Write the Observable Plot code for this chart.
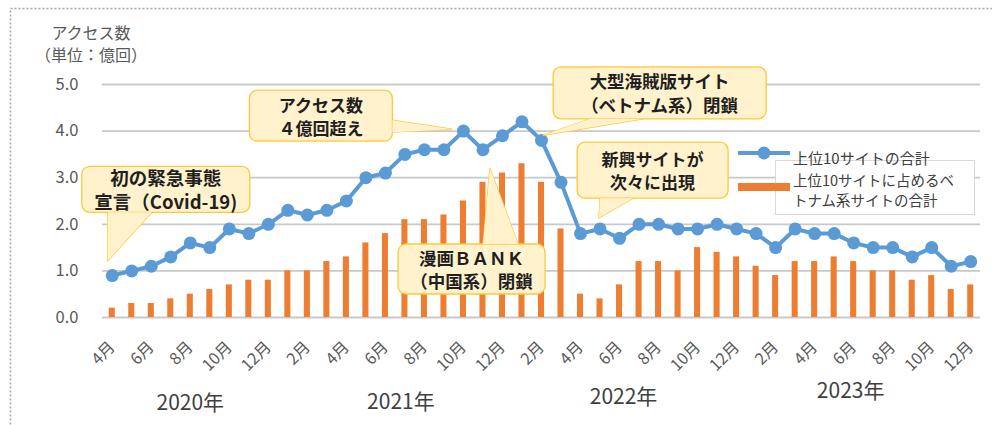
<!DOCTYPE html>
<html>
<head>
<meta charset="utf-8">
<script src="https://cdn.jsdelivr.net/npm/d3@7"></script>
<script src="https://cdn.jsdelivr.net/npm/@observablehq/plot@0.6"></script>
<style>
  html, body { margin: 0; padding: 0; background: #fff; overflow: hidden; }
  #chart svg { display: block; }
</style>
</head>
<body>
<div id="chart"></div>
<script>
// ---- data ----
const periods = [
  "2020-04","2020-05","2020-06","2020-07","2020-08","2020-09","2020-10","2020-11","2020-12",
  "2021-01","2021-02","2021-03","2021-04","2021-05","2021-06","2021-07","2021-08","2021-09","2021-10","2021-11","2021-12",
  "2022-01","2022-02","2022-03","2022-04","2022-05","2022-06","2022-07","2022-08","2022-09","2022-10","2022-11","2022-12",
  "2023-01","2023-02","2023-03","2023-04","2023-05","2023-06","2023-07","2023-08","2023-09","2023-10","2023-11","2023-12"
];
const top10Total = [
  0.9,1.0,1.1,1.3,1.6,1.5,1.9,1.8,2.0,
  2.3,2.2,2.3,2.5,3.0,3.1,3.5,3.6,3.6,4.0,3.6,3.9,
  4.2,3.8,2.9,1.8,1.9,1.7,2.0,2.0,1.9,1.9,2.0,1.9,
  1.8,1.5,1.9,1.8,1.8,1.6,1.5,1.5,1.3,1.5,1.1,1.2
];
const vietnamTotal = [
  0.2,0.3,0.3,0.4,0.5,0.6,0.7,0.8,0.8,
  1.0,1.0,1.2,1.3,1.6,1.8,2.1,2.1,2.2,2.5,2.9,3.1,
  3.3,2.9,1.9,0.5,0.4,0.7,1.2,1.2,1.0,1.5,1.4,1.3,
  1.1,0.9,1.2,1.2,1.3,1.2,1.0,1.0,0.8,0.9,0.6,0.7
];
const yTicks = [0, 1, 2, 3, 4, 5];
const yearLabels = ["2020年", "2021年", "2022年", "2023年"];
const yearAnchorPeriods = ["2020-08", "2021-07", "2022-06", "2023-06"];
const seriesNames = ["上位10サイトの合計", "上位10サイトに占めるベトナム系サイトの合計"];
const yTitle = ["アクセス数", "（単位：億回）"];
// callouts: box centre and tail tip in data units (month index, value)
const callouts = [
  {lines: ["初の緊急事態", "宣言（Covid-19)"], cx: 2.77, cy: 2.74, tip: [-0.2, 1.21]},
  {lines: ["アクセス数", "４億回超え"], cx: 10.72, cy: 4.32, tip: [17.44, 4.03]},
  {lines: ["大型海賊版サイト", "（ベトナム系）閉鎖"], cx: 28.08, cy: 4.81, tip: [22.1, 3.9]},
  {lines: ["新興サイトが", "次々に出現"], cx: 27.72, cy: 3.15, tip: [24.97, 2.13]},
  {lines: ["漫画ＢＡＮＫ", "（中国系）閉鎖"], cx: 18.44, cy: 1.03, tip: [19.38, 3.19]}
];
// ---- callout box geometry and text styling ----
const calloutGeom = [
  {w: 168, h: 46, base: [[-58, 23], [-14, 23]], fs: 18.5, lh: 24},
  {w: 143, h: 51, base: [[71.5, 4.5], [71.5, 16.5]], fs: 17, lh: 23},
  {w: 213, h: 52, base: [[-69.5, 26], [-16.5, 26]], fs: 17.5, lh: 24},
  {w: 151, h: 56, base: [[-52.5, 28], [-19.5, 28]], fs: 17, lh: 23},
  {w: 147, h: 50, base: [[11.5, -25], [46.5, -25]], fs: 17.5, lh: 23}
];

const data = periods.map((p, i) => ({p, total: top10Total[i], vn: vietnamTotal[i]}));
const FONT = "'Noto Sans CJK JP', 'Noto Sans', sans-serif";

const plot = Plot.plot({
  width: 992,
  height: 425,
  marginTop: 84,
  marginBottom: 108,
  marginLeft: 102,
  marginRight: 12,
  style: {fontFamily: FONT, background: "#fff", color: "#595959"},
  x: {type: "band", domain: periods, paddingInner: 0.69, paddingOuter: 0.345, round: false},
  y: {domain: [0, 5]},
  marks: [
    Plot.ruleY(yTicks, {stroke: "#c9c9c9", strokeWidth: 1.8}),
    Plot.axisY({ticks: yTicks, tickFormat: d3.format(".1f"), tickSize: 0, tickPadding: 24,
                fontSize: 16.5, label: null, fill: "#595959"}),
    Plot.axisX({ticks: periods.filter(p => +p.slice(5) % 2 === 0),
                tickFormat: p => (+p.slice(5)) + "月", tickRotate: -45, tickSize: 0,
                tickPadding: 27, fontSize: 16, label: null, fill: "#595959"}),
    Plot.barY(data, {x: "p", y: "vn", fill: "#ED7D31"}),
    Plot.line(data, {x: "p", y: "total", stroke: "#5B9BD5", strokeWidth: 4}),
    Plot.dot(data, {x: "p", y: "total", r: 6.5, fill: "#5B9BD5", stroke: "none"}),
    Plot.text(yearLabels.map((t, i) => ({t, p: yearAnchorPeriods[i]})), {
      x: "p", text: "t", frameAnchor: "bottom", fontSize: 21, fill: "#404040"
    })
  ]
});

document.getElementById("chart").appendChild(plot);

const svg = d3.select(plot);
const xs = plot.scale("x"), ys = plot.scale("y");
const x0 = xs.apply(periods[0]) + xs.bandwidth / 2;
const px = idx => x0 + idx * xs.step;
const py = v => ys.apply(v);

// year labels: small offsets
const yearDy = [92, 91, 86, 80];
const yearDx = [0, -4, 4, -3];
svg.selectAll("text").filter(function() { return yearLabels.includes(this.textContent); })
  .each(function() {
    const i = yearLabels.indexOf(this.textContent);
    const sel = d3.select(this);
    const t = sel.attr("transform") || "";
    sel.attr("transform", t + ` translate(${yearDx[i]},${yearDy[i]})`);
  });

// y axis title
const g = svg.append("g").attr("font-family", FONT);
yTitle.forEach((t, i) => {
  g.append("text").attr("x", 91).attr("y", 32 + i * 22).attr("text-anchor", "middle")
    .attr("dominant-baseline", "central").attr("font-size", 16).attr("fill", "#595959").text(t);
});

// outer dotted frame
svg.append("rect").attr("x", 10.5).attr("y", 8.5).attr("width", 1000).attr("height", 500)
  .attr("fill", "none").attr("stroke", "#a6a6a6").attr("stroke-width", 1.5).attr("stroke-dasharray", "2,2");

// legend
const lg = svg.append("g").attr("font-family", FONT).attr("text-anchor", "start");
lg.append("rect").attr("x", 775.5).attr("y", 160.5).attr("width", 199).attr("height", 54)
  .attr("fill", "#fff").attr("stroke", "#d9d9d9");
lg.append("line").attr("x1", 738).attr("x2", 790).attr("y1", 153).attr("y2", 153)
  .attr("stroke", "#5B9BD5").attr("stroke-width", 4);
lg.append("circle").attr("cx", 764).attr("cy", 153).attr("r", 6.5).attr("fill", "#5B9BD5");
lg.append("text").attr("x", 793).attr("y", 157).attr("dominant-baseline", "central")
  .attr("text-anchor", "start").attr("font-size", 15).attr("fill", "#404040").text(seriesNames[0]);
lg.append("rect").attr("x", 738).attr("y", 183).attr("width", 52).attr("height", 8).attr("fill", "#ED7D31");
const n2 = seriesNames[1];
const cut = n2.indexOf("ベ") + 1;
[n2.slice(0, cut), n2.slice(cut)].forEach((t, i) => {
  lg.append("text").attr("x", 793).attr("y", 179 + i * 20).attr("dominant-baseline", "central")
    .attr("text-anchor", "start").attr("font-size", 14.5).attr("fill", "#404040").text(t);
});

// callouts
const cg = svg.append("g").attr("font-family", FONT);
callouts.forEach((c, i) => {
  const geo = calloutGeom[i];
  const cx = px(c.cx), cy = py(c.cy);
  const tx = px(c.tip[0]), ty = py(c.tip[1]);
  const pts = [[cx + geo.base[0][0], cy + geo.base[0][1]], [tx, ty], [cx + geo.base[1][0], cy + geo.base[1][1]]];
  const poly = pts.map(p => p.join(",")).join(" ");
  cg.append("polygon").attr("points", poly).attr("fill", "#FFF2CC").attr("stroke", "#FFC935").attr("stroke-width", 1.3);
  cg.append("rect").attr("x", cx - geo.w / 2).attr("y", cy - geo.h / 2).attr("width", geo.w).attr("height", geo.h)
    .attr("rx", 8).attr("fill", "#FFF2CC").attr("stroke", "#FFC935").attr("stroke-width", 1.3);
  cg.append("polygon").attr("points", poly).attr("fill", "#FFF2CC").attr("stroke", "none");
  c.lines.forEach((t, j) => {
    cg.append("text").attr("x", cx).attr("y", cy + (j - 0.5) * geo.lh).attr("text-anchor", "middle")
      .attr("dominant-baseline", "central").attr("font-size", geo.fs).attr("font-weight", "bold")
      .attr("fill", "#1f1f1f").text(t);
  });
});
</script>
</body>
</html>
